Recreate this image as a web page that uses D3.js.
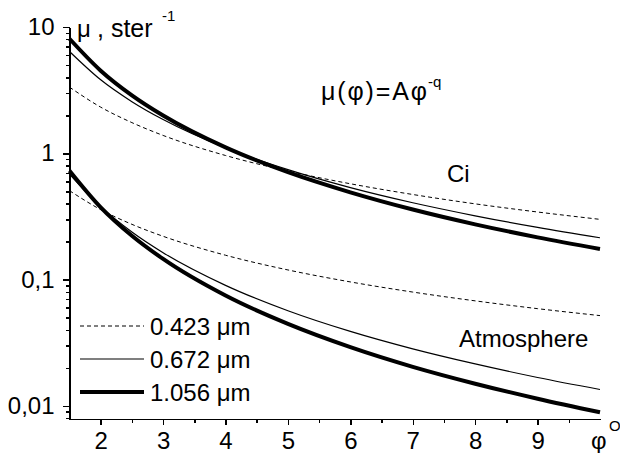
<!DOCTYPE html>
<html>
<head>
<meta charset="utf-8">
<script src="https://cdn.jsdelivr.net/npm/d3@7"></script>
<style>
  body { margin: 0; background: #fff; }
  svg { display: block; font-family: Arial, "Liberation Sans", sans-serif; }
</style>
</head>
<body>
<svg width="620" height="453"></svg>
<script>
// scattering angle, degrees
var phi = [1.5, 2, 2.5, 3, 4, 5, 6, 7, 8, 9, 10]

// Ci cloud
var ci423 = [3.34, 2.32, 1.75, 1.385, 0.961, 0.724, 0.574, 0.472, 0.398, 0.343, 0.300]
var ci672 = [6.4, 3.82, 2.565, 1.851, 1.106, 0.742, 0.535, 0.406, 0.320, 0.259, 0.2145]
var ci1056 = [8.07, 4.51, 2.875, 1.99, 1.113, 0.709, 0.491, 0.359, 0.274, 0.216, 0.175]

// Atmosphere
var atm423 = [0.506, 0.358, 0.274, 0.2203, 0.156, 0.1193, 0.0959, 0.0797, 0.0679, 0.0589, 0.0519]
var atm672 = [0.686, 0.378, 0.2383, 0.1634, 0.0901, 0.0567, 0.0389, 0.0283, 0.0215, 0.0168, 0.0135]
var atm1056 = [0.728, 0.3735, 0.2226, 0.1458, 0.0748, 0.0446, 0.0292, 0.0204, 0.0150, 0.0114, 0.0089]

var xTicks = [2, 3, 4, 5, 6, 7, 8, 9]
var xMinor = [2.5, 3.5, 4.5, 5.5, 6.5, 7.5, 8.5, 9.5]
var yTicks = [0.01, 0.1, 1, 10]
var yTickLabels = ['0,01', '0,1', '1', '10']
var legendLabels = ['0.423 \u03bcm', '0.672 \u03bcm', '1.056 \u03bcm']

;(function (d3) {
  var svg = d3.select('svg')

  var x = d3.scaleLinear().domain([1.5, 10]).range([69.5, 600])
  var y = d3.scaleLog().domain([0.00788, 10]).range([419, 27])

  var styles = [
    {w: 1, dash: '4,3'},
    {w: 1.2, dash: null},
    {w: 4, dash: null}
  ]

  var series = [
    {v: ci423, s: 0}, {v: ci672, s: 1}, {v: ci1056, s: 2},
    {v: atm423, s: 0}, {v: atm672, s: 1}, {v: atm1056, s: 2}
  ]

  var ln = d3.line()
        .x(function (d, i) { return x(phi[i]) })
        .y(function (d) { return y(d) })
        .curve(d3.curveMonotoneX)

  svg.selectAll('path.curve')
        .data(series)
        .enter()
        .append('path')
        .attr('class', 'curve')
        .attr('d', function (d) { return ln(d.v) })
        .style('fill', 'none')
        .style('stroke', '#000')
        .style('stroke-width', function (d) { return styles[d.s].w })
        .style('stroke-dasharray', function (d) { return styles[d.s].dash })

  // axes
  var minorY = []
  ;[0.001, 0.01, 0.1, 1].forEach(function (dec) {
    d3.range(2, 10).forEach(function (k) {
      var v = dec * k
      if (v >= 0.00788 && v <= 10) minorY.push(v)
    })
  })

  svg.append('g')
        .attr('transform', 'translate(69.5,0)')
        .call(d3.axisLeft(y).tickValues(minorY).tickSize(4).tickSizeOuter(0).tickFormat(''))

  svg.append('g')
        .attr('class', 'yaxis')
        .attr('transform', 'translate(69.5,0)')
        .call(d3.axisLeft(y).tickValues(yTicks).tickSize(7).tickSizeOuter(0).tickPadding(8)
          .tickFormat(function (d, i) { return yTickLabels[i] }))

  svg.append('g')
        .attr('transform', 'translate(0,419)')
        .call(d3.axisBottom(x).tickValues(xMinor).tickSize(4).tickSizeOuter(0).tickFormat(''))

  svg.append('g')
        .attr('class', 'xaxis')
        .attr('transform', 'translate(0,419)')
        .call(d3.axisBottom(x).tickValues(xTicks).tickSize(6).tickSizeOuter(0).tickPadding(7)
          .tickFormat(d3.format('d')))

  svg.selectAll('.domain, .tick line')
        .style('stroke', '#000')
        .style('stroke-width', 1.5)
        .style('shape-rendering', 'crispEdges')
  svg.selectAll('.tick text')
        .style('font-family', 'Arial, "Liberation Sans", sans-serif')
        .style('font-size', '24px')
        .style('fill', '#000')

  // labels
  function txt (tx, ty, s, size) {
    return svg.append('text').attr('x', tx).attr('y', ty)
          .style('font-size', size + 'px').text(s)
  }
  txt(77, 37, '\u03bc', 24)
  txt(97, 37, ', ster', 25)
  txt(162, 21, '-1', 15)

  var f = txt(321, 100, '\u03bc(\u03c6)=A\u03c6', 25)
  f.attr('textLength', 106).attr('lengthAdjust', 'spacing')
  txt(428, 87, '-q', 15)

  txt(447, 182, 'Ci', 24)
  txt(459, 347, 'Atmosphere', 24)

  txt(591, 449, '\u03c6', 24)
  txt(609, 431, 'O', 15)

  // legend
  var leg = svg.append('g')
  leg.selectAll('line')
        .data(styles)
        .enter()
        .append('line')
        .attr('x1', 80)
        .attr('x2', 144)
        .attr('y1', function (d, i) { return 326 + i * 33 })
        .attr('y2', function (d, i) { return 326 + i * 33 })
        .style('stroke', '#000')
        .style('stroke-width', function (d) { return d.w })
        .style('stroke-dasharray', function (d) { return d.dash })
  leg.selectAll('text')
        .data(legendLabels)
        .enter()
        .append('text')
        .attr('x', 150)
        .attr('y', function (d, i) { return 335 + i * 33 })
        .style('font-size', '24px')
        .text(function (d) { return d })
})(window.d3)
</script>
</body>
</html>
